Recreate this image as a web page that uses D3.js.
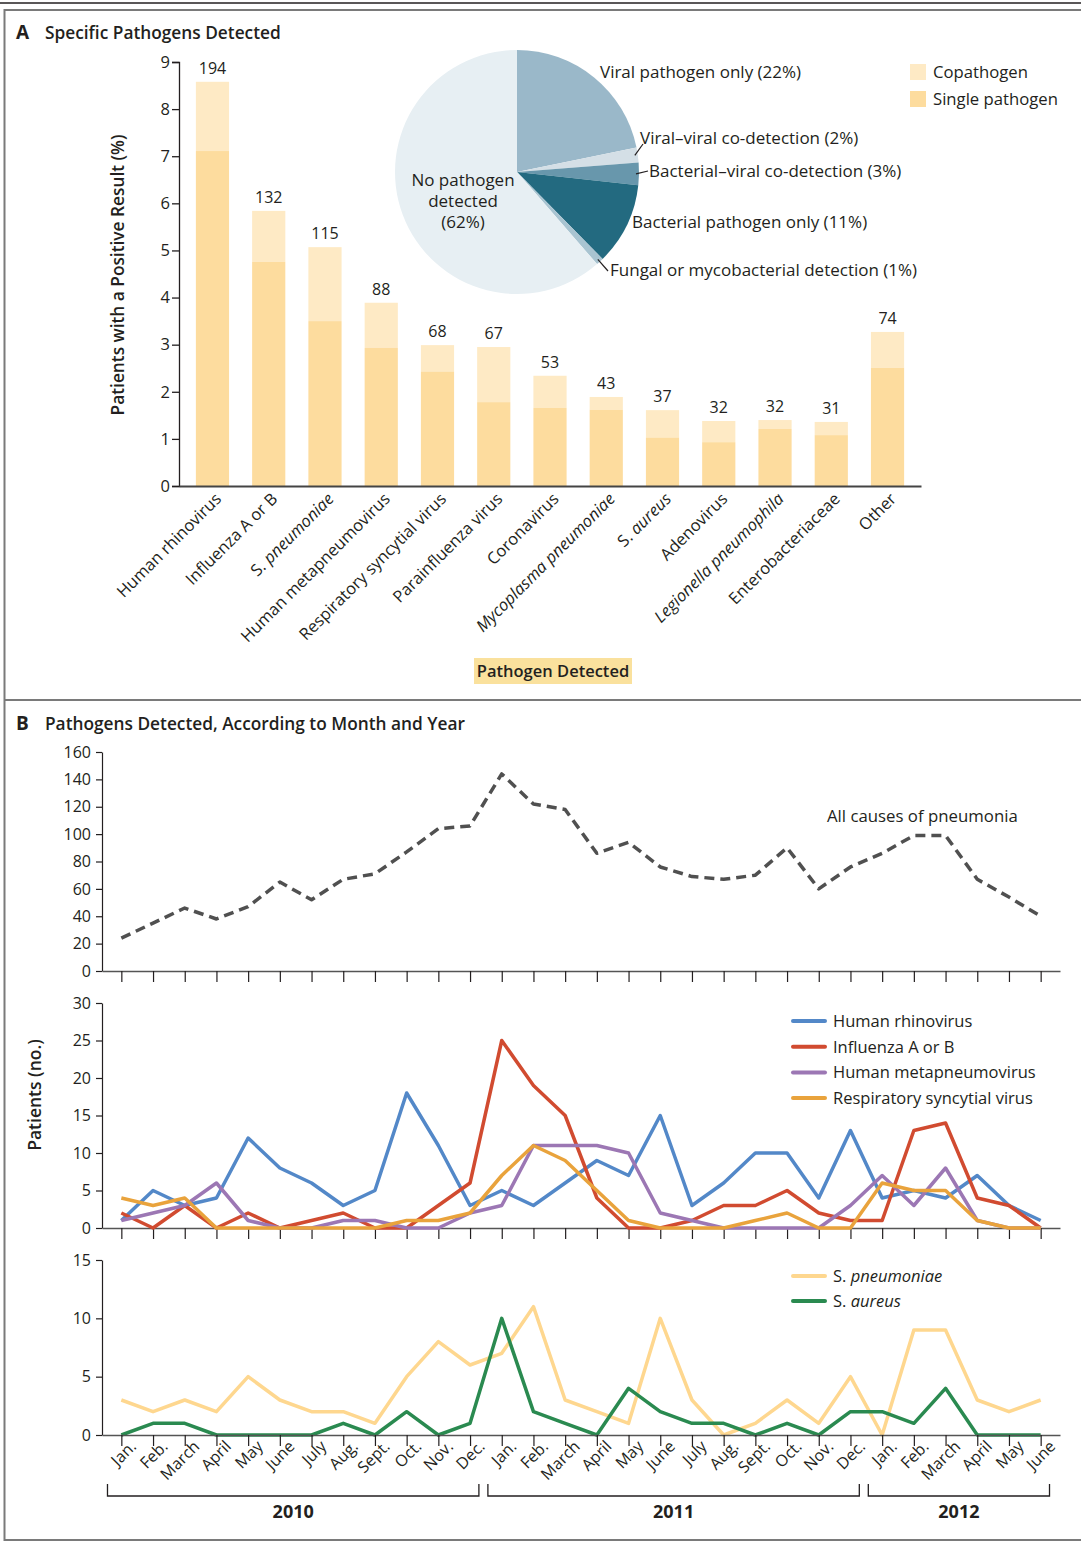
<!DOCTYPE html>
<html>
<head>
<meta charset="utf-8">
<script src="https://cdn.jsdelivr.net/npm/d3@7"></script>
<style>
body { margin: 0; background: #fff; }
text { font-family: "Open Sans", "Noto Sans", sans-serif; fill: #231f20; }
</style>
</head>
<body>
<div id="chart"></div>
<script>
// panel A data
var pathogens = ["Human rhinovirus", "Influenza A or B", "S. pneumoniae", "Human metapneumovirus",
    "Respiratory syncytial virus", "Parainfluenza virus", "Coronavirus", "Mycoplasma pneumoniae",
    "S. aureus", "Adenovirus", "Legionella pneumophila", "Enterobacteriaceae", "Other"];
var italicNames = ["Mycoplasma pneumoniae", "Legionella pneumophila"];
var totalPct  = [8.58, 5.84, 5.07, 3.89, 2.99, 2.95, 2.34, 1.89, 1.61, 1.38, 1.40, 1.36, 3.27];
var singlePct = [7.11, 4.76, 3.50, 2.93, 2.43, 1.78, 1.66, 1.62, 1.03, 0.93, 1.21, 1.08, 2.51];
var patientCounts = [194, 132, 115, 88, 68, 67, 53, 43, 37, 32, 32, 31, 74];
var yTicksA = [0, 1, 2, 3, 4, 5, 6, 7, 8, 9];

var pieNames = ["Viral pathogen only (22%)", "Viral\u2013viral co-detection (2%)",
    "Bacterial\u2013viral co-detection (3%)", "Bacterial pathogen only (11%)",
    "Fungal or mycobacterial detection (1%)", "No pathogen detected (62%)"];
var pieShares = [22, 2, 3, 11, 1, 62];

// panel B data
var months = ["Jan.", "Feb.", "March", "April", "May", "June", "July", "Aug.", "Sept.", "Oct.", "Nov.", "Dec.",
    "Jan.", "Feb.", "March", "April", "May", "June", "July", "Aug.", "Sept.", "Oct.", "Nov.", "Dec.",
    "Jan.", "Feb.", "March", "April", "May", "June"];
var years = ["2010", "2011", "2012"];
var yearStart = [0, 12, 24];
var yearEnd = [11, 23, 29];

var allCauses = [24, 35, 46, 38, 47, 65, 52, 67, 71, 87, 104, 106,
    144, 122, 118, 86, 94, 76, 69, 67, 70, 90, 60, 76,
    86, 99, 99, 67, 54, 40];
var rhinovirus = [1, 5, 3, 4, 12, 8, 6, 3, 5, 18, 11, 3,
    5, 3, 6, 9, 7, 15, 3, 6, 10, 10, 4, 13,
    4, 5, 4, 7, 3, 1];
var influenza = [2, 0, 3, 0, 2, 0, 1, 2, 0, 0, 3, 6,
    25, 19, 15, 4, 0, 0, 1, 3, 3, 5, 2, 1,
    1, 13, 14, 4, 3, 0];
var metapneumovirus = [1, 2, 3, 6, 1, 0, 0, 1, 1, 0, 0, 2,
    3, 11, 11, 11, 10, 2, 1, 0, 0, 0, 0, 3,
    7, 3, 8, 1, 0, 0];
var rsv = [4, 3, 4, 0, 0, 0, 0, 0, 0, 1, 1, 2,
    7, 11, 9, 5, 1, 0, 0, 0, 1, 2, 0, 0,
    6, 5, 5, 1, 0, 0];
var pneumoniae = [3, 2, 3, 2, 5, 3, 2, 2, 1, 5, 8, 6,
    7, 11, 3, 2, 1, 10, 3, 0, 1, 3, 1, 5,
    0, 9, 9, 3, 2, 3];
var aureus = [0, 1, 1, 0, 0, 0, 0, 1, 0, 2, 0, 1,
    10, 2, 1, 0, 4, 2, 1, 1, 0, 1, 0, 2,
    2, 1, 4, 0, 0, 0];

var virusSeries = [
    {name: "Human rhinovirus", values: rhinovirus, color: "#5388c8"},
    {name: "Influenza A or B", values: influenza, color: "#d14b30"},
    {name: "Human metapneumovirus", values: metapneumovirus, color: "#9c77b4"},
    {name: "Respiratory syncytial virus", values: rsv, color: "#e9a33c"}
];
var bacteriaSeries = [
    {name: "pneumoniae", prefix: "S. ", values: pneumoniae, color: "#fed78f"},
    {name: "aureus", prefix: "S. ", values: aureus, color: "#2a8a50"}
];

var svgWidth = 1081;
var svgHeight = 1542;
var ink = "#231f20";

var svg = d3.select("#chart")
    .append("svg")
    .attr("width", svgWidth)
    .attr("height", svgHeight);

// frame
svg.append("line").attr("x1", 0).attr("x2", svgWidth).attr("y1", 3).attr("y2", 3)
    .attr("stroke", ink).attr("stroke-width", 1.5);
svg.append("rect").attr("x", 4.5).attr("y", 10).attr("width", svgWidth).attr("height", 1530)
    .attr("fill", "none").attr("stroke", "#7a7a7a").attr("stroke-width", 2);
svg.append("line").attr("x1", 4).attr("x2", svgWidth).attr("y1", 700).attr("y2", 700)
    .attr("stroke", "#7a7a7a").attr("stroke-width", 2);

function panelTitle(letter, title, y) {
    svg.append("text").attr("x", 16).attr("y", y).text(letter)
        .attr("font-size", "19px").attr("font-weight", "bold");
    svg.append("text").attr("x", 45).attr("y", y).text(title)
        .attr("font-size", "17.3px").attr("font-weight", 600);
}
panelTitle("A", "Specific Pathogens Detected", 39);
panelTitle("B", "Pathogens Detected, According to Month and Year", 730);

// ---------- panel A bars ----------
var xA = d3.scaleBand()
    .domain(pathogens)
    .range([179, 921])
    .paddingInner(0.41)
    .paddingOuter(0.3);
var yA = d3.scaleLinear().domain([0, 9]).range([486, 62]);

var barsA = svg.append("g");
barsA.selectAll("rect.co")
    .data(pathogens)
    .enter()
    .append("rect")
    .attr("x", d => xA(d))
    .attr("width", xA.bandwidth())
    .attr("y", (d, i) => yA(totalPct[i]))
    .attr("height", (d, i) => yA(singlePct[i]) - yA(totalPct[i]))
    .attr("fill", "#feeac5");
barsA.selectAll("rect.single")
    .data(pathogens)
    .enter()
    .append("rect")
    .attr("x", d => xA(d))
    .attr("width", xA.bandwidth())
    .attr("y", (d, i) => yA(singlePct[i]))
    .attr("height", (d, i) => yA(0) - yA(singlePct[i]))
    .attr("fill", "#fddc9e");
barsA.selectAll("text")
    .data(pathogens)
    .enter()
    .append("text")
    .attr("x", d => xA(d) + xA.bandwidth() / 2)
    .attr("y", (d, i) => yA(totalPct[i]) - 8)
    .attr("text-anchor", "middle")
    .attr("font-size", "16px")
    .text((d, i) => patientCounts[i]);

var yAxisA = svg.append("g")
    .attr("transform", "translate(179,0)")
    .call(d3.axisLeft(yA).tickValues(yTicksA).tickSize(7).tickSizeOuter(7).tickFormat(d3.format("d")));
yAxisA.selectAll("text").attr("font-size", "16.5px").attr("x", -9).attr("fill", ink);
yAxisA.selectAll("line, path").attr("stroke", ink).attr("stroke-width", 1.3);

var xAxisA = svg.append("g")
    .attr("transform", "translate(0,486)")
    .call(d3.axisBottom(xA).tickSize(0).tickSizeOuter(0));
xAxisA.select("path").attr("stroke", "#444").attr("stroke-width", 2);
xAxisA.selectAll("text")
    .attr("font-size", "16.5px")
    .attr("fill", ink)
    .attr("text-anchor", "end")
    .attr("x", -3)
    .attr("y", 11)
    .attr("dy", "0.35em")
    .attr("transform", "rotate(-45)")
    .each(function (d) {
        var t = d3.select(this).text("");
        if (italicNames.indexOf(d) >= 0) {
            t.append("tspan").attr("font-style", "italic").text(d);
        } else if (d.indexOf("S. ") === 0) {
            t.append("tspan").text("S. ");
            t.append("tspan").attr("font-style", "italic").text(d.slice(3));
        } else {
            t.append("tspan").text(d);
        }
    });

svg.append("text")
    .attr("transform", "translate(124,275) rotate(-90)")
    .attr("text-anchor", "middle")
    .attr("font-size", "17.3px")
    .attr("font-weight", 600)
    .text("Patients with a Positive Result (%)");

svg.append("rect").attr("x", 474).attr("y", 658).attr("width", 158).attr("height", 26).attr("fill", "#fae19d");
svg.append("text").attr("x", 553).attr("y", 677).attr("text-anchor", "middle")
    .attr("font-size", "16.5px").attr("font-weight", 600).text("Pathogen Detected");

// legend A
var legendA = [{label: "Copathogen", color: "#feeac5"}, {label: "Single pathogen", color: "#fddc9e"}];
var legA = svg.append("g").selectAll("g").data(legendA).enter().append("g")
    .attr("transform", (d, i) => `translate(910,${64 + i * 27})`);
legA.append("rect").attr("width", 16).attr("height", 16).attr("fill", d => d.color);
legA.append("text").attr("x", 23).attr("y", 14).attr("font-size", "16.7px").text(d => d.label);

// ---------- pie ----------
var pieR = 122;
var pieColors = ["#9ab8c9", "#d4dfe6", "#6897ac", "#236a80", "#a9c4d1", "#e7eff3"];
var pie = d3.pie().sort(null).value(d => d);
var arcs = pie(pieShares);
var arc = d3.arc().innerRadius(0).outerRadius(pieR);
var pieG = svg.append("g").attr("transform", "translate(517,172)");
pieG.selectAll("path")
    .data(arcs)
    .enter()
    .append("path")
    .attr("d", arc)
    .attr("fill", (d, i) => pieColors[i]);

function edgePoint(d, r) {
    var a = (d.startAngle + d.endAngle) / 2;
    return [Math.sin(a) * r, -Math.cos(a) * r];
}
// label offsets relative to pie centre
var pieLabelPos = [[83, -94], [123, -28], [132, 5], [115, 56], [93, 104]];
var leaderEnd = [null, [126, -28], [131, -1], null, [91, 99]];
pieLabelPos.forEach((p, i) => {
    pieG.append("text").attr("x", p[0]).attr("y", p[1]).attr("font-size", "17px").text(pieNames[i]);
    if (leaderEnd[i]) {
        var s = edgePoint(arcs[i], pieR - 3);
        pieG.append("line").attr("x1", s[0]).attr("y1", s[1])
            .attr("x2", leaderEnd[i][0]).attr("y2", leaderEnd[i][1])
            .attr("stroke", ink).attr("stroke-width", 1.2);
    }
});
pieG.append("text")
    .attr("text-anchor", "middle")
    .attr("font-size", "17px")
    .selectAll("tspan")
    .data(["No pathogen", "detected", "(62%)"])
    .enter()
    .append("tspan")
    .attr("x", -54)
    .attr("y", (d, i) => 14 + i * 21)
    .text(d => d);

// ---------- panel B ----------
var xB = d3.scalePoint()
    .domain(d3.range(months.length))
    .range([102, 1060])
    .padding(0.61);

function monthAxis(y, withLabels) {
    var g = svg.append("g")
        .attr("transform", `translate(0,${y})`)
        .call(d3.axisBottom(xB).tickSize(11).tickSizeOuter(0).tickFormat(i => withLabels ? months[i] : ""));
    g.select("path").attr("stroke", "#555").attr("stroke-width", 1.6);
    g.selectAll("line").attr("stroke", ink).attr("stroke-width", 1.2);
    if (withLabels) {
        g.selectAll("text")
            .attr("font-size", "16px")
            .attr("fill", ink)
            .attr("text-anchor", "end")
            .attr("x", 2)
            .attr("y", 14)
            .attr("dy", "0.35em")
            .attr("transform", "rotate(-45)");
    }
    return g;
}

function valueAxis(yScale, ticks) {
    var g = svg.append("g")
        .attr("transform", "translate(102,0)")
        .call(d3.axisLeft(yScale).tickValues(ticks).tickSize(6).tickSizeOuter(0));
    g.selectAll("text").attr("font-size", "16px").attr("fill", ink).attr("x", -11);
    g.selectAll("line, path").attr("stroke", ink).attr("stroke-width", 1.2);
    return g;
}

function drawLine(values, yScale, color, width, dash) {
    var line = d3.line().x((d, i) => xB(i)).y(d => yScale(d));
    var p = svg.append("path")
        .datum(values)
        .attr("d", line)
        .attr("fill", "none")
        .attr("stroke", color)
        .attr("stroke-width", width)
        .attr("stroke-linejoin", "round");
    if (dash) p.attr("stroke-dasharray", dash);
    return p;
}

// top: all causes
var yTop = d3.scaleLinear().domain([0, 160]).range([971, 752]);
valueAxis(yTop, d3.range(0, 161, 20));
monthAxis(971, false);
drawLine(allCauses, yTop, "#505050", 3.5, "10,6");
svg.append("text").attr("x", 827).attr("y", 822).attr("font-size", "16.8px").text("All causes of pneumonia");

// middle: viruses
var yMid = d3.scaleLinear().domain([0, 30]).range([1228, 1003]);
valueAxis(yMid, d3.range(0, 31, 5));
monthAxis(1228, false);
virusSeries.forEach(s => drawLine(s.values, yMid, s.color, 3.5));
var legMid = svg.append("g").selectAll("g").data(virusSeries).enter().append("g")
    .attr("transform", (d, i) => `translate(793,${1021 + i * 25.7})`);
legMid.append("line").attr("x2", 32).attr("stroke", d => d.color).attr("stroke-width", 4).attr("stroke-linecap", "round");
legMid.append("text").attr("x", 40).attr("y", 6).attr("font-size", "16.5px").text(d => d.name);

svg.append("text")
    .attr("transform", "translate(41,1095) rotate(-90)")
    .attr("text-anchor", "middle")
    .attr("font-size", "17.5px")
    .attr("font-weight", 600)
    .text("Patients (no.)");

// bottom: bacteria
var yBot = d3.scaleLinear().domain([0, 15]).range([1435, 1260]);
valueAxis(yBot, [0, 5, 10, 15]);
bacteriaSeries.forEach(s => drawLine(s.values, yBot, s.color, 3.5));
monthAxis(1435, true);
var legBot = svg.append("g").selectAll("g").data(bacteriaSeries).enter().append("g")
    .attr("transform", (d, i) => `translate(793,${1276 + i * 25})`);
legBot.append("line").attr("x2", 32).attr("stroke", d => d.color).attr("stroke-width", 4).attr("stroke-linecap", "round");
var legBotText = legBot.append("text").attr("x", 40).attr("y", 6).attr("font-size", "16.5px");
legBotText.append("tspan").text(d => d.prefix);
legBotText.append("tspan").attr("font-style", "italic").text(d => d.name);

// year brackets
var step = xB.step();
var brackets = svg.append("g").selectAll("g").data(years).enter().append("g");
brackets.append("path")
    .attr("d", (d, i) => {
        var x0 = xB(yearStart[i]) - step / 2 + 2;
        var x1 = xB(yearEnd[i]) + step / 2 - 7;
        return `M${x0},1484V1496H${x1}V1484`;
    })
    .attr("fill", "none")
    .attr("stroke", ink)
    .attr("stroke-width", 1.3);
brackets.append("text")
    .attr("x", (d, i) => (xB(yearStart[i]) - step / 2 + 2 + xB(yearEnd[i]) + step / 2 - 7) / 2)
    .attr("y", 1518)
    .attr("text-anchor", "middle")
    .attr("font-size", "18px")
    .attr("font-weight", "bold")
    .text(d => d);
</script>
</body>
</html>
